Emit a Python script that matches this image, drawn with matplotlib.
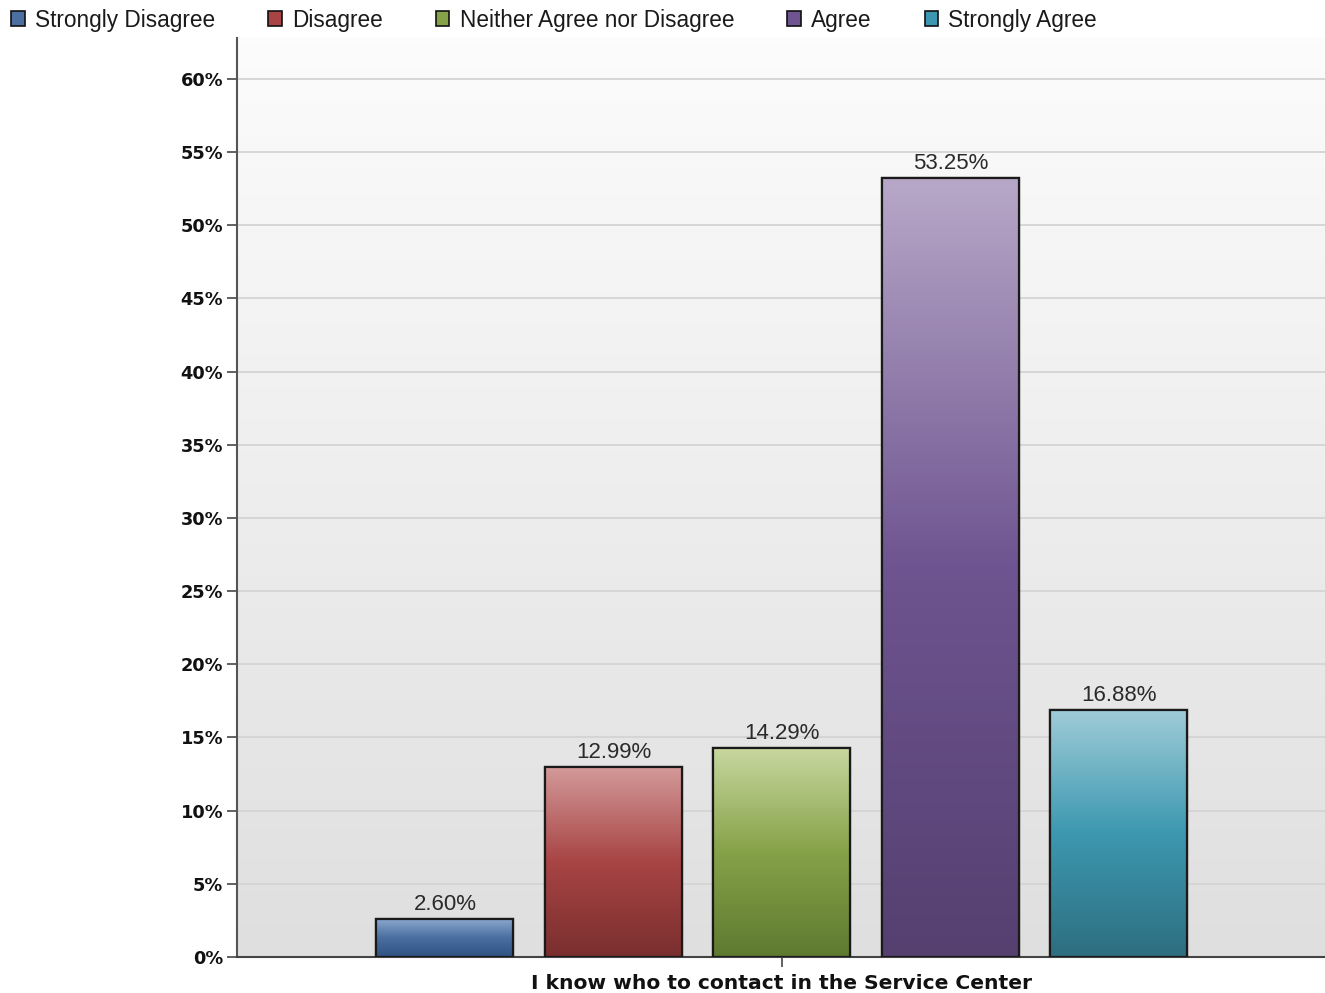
import numpy as np
import matplotlib
matplotlib.use("Agg")
import matplotlib.pyplot as plt
from matplotlib.patches import Patch
from matplotlib.colors import LinearSegmentedColormap

plt.rcParams['font.family'] = ['Liberation Sans', 'DejaVu Sans']

category = "I know who to contact in the Service Center"
series = ["Strongly Disagree", "Disagree", "Neither Agree nor Disagree", "Agree", "Strongly Agree"]
values = [2.60, 12.99, 14.29, 53.25, 16.88]
yticks = [0, 5, 10, 15, 20, 25, 30, 35, 40, 45, 50, 55, 60]

base_colors = ["#4a6fa0", "#a84444", "#86a248", "#6e5490", "#3c98b0"]
grad_colors = [
    ("#8eaad0", "#4a6fa0", "#2f5282"),
    ("#d49a9a", "#a84444", "#7a2e2e"),
    ("#c8d8a0", "#86a248", "#5e7a30"),
    ("#b8a8c8", "#6e5490", "#554070"),
    ("#a0ccd8", "#3c98b0", "#2e6e80"),
]

fig = plt.figure(figsize=(13.25, 9.93), dpi=100)
ax = fig.add_axes([237/1325, 1-957/993, (1325-237)/1325, (957-38)/993])

ymax = 62.8
xmin, xmax = -3.234, 3.223
ax.set_xlim(xmin, xmax)
ax.set_ylim(0, ymax)

# background gradient
bg = LinearSegmentedColormap.from_list("bg", ["#dfdfdf", "#fcfcfc"])
grad = np.linspace(0, 1, 256).reshape(-1, 1)
ax.imshow(grad, cmap=bg, aspect='auto', extent=[xmin, xmax, 0, ymax],
          origin='lower', zorder=0)

for y in yticks[1:]:
    ax.axhline(y, color="#d4d4d4", lw=1.3, zorder=1)

width = 0.813
positions = np.arange(len(values)) - 2
bars = ax.bar(positions, values, width=width, color=base_colors,
              edgecolor="#1a1a1a", linewidth=1.6, zorder=3)
for b, (top, mid, bot) in zip(bars, grad_colors):
    cm = LinearSegmentedColormap.from_list("g", [bot, mid, top])
    x0, y0 = b.get_x(), b.get_y()
    w, h = b.get_width(), b.get_height()
    im = ax.imshow(grad, cmap=cm, aspect='auto', extent=[x0, x0 + w, y0, y0 + h],
                   origin='lower', zorder=3.5)
    im.set_clip_path(b)
    ax.bar(b.get_x() + w/2, h, width=w, fill=False, edgecolor="#1a1a1a",
           linewidth=1.6, zorder=4)

for x, v in zip(positions, values):
    ax.text(x, v + 0.25, f"{v:.2f}%", ha='center', va='bottom', fontsize=16,
            color="#2a2a2a", zorder=5)

ax.set_yticks(yticks)
ax.set_yticklabels([f"{t}%" for t in yticks], fontweight='bold', fontsize=12.8,
                   family=['DejaVu Sans'], color="#111111")
ax.tick_params(axis='y', length=7, width=1.3, color="#555555", pad=3)
ax.set_xticks([0])
ax.set_xticklabels([category], fontweight='bold', fontsize=14.6,
                   family=['DejaVu Sans'], color="#111111")
ax.tick_params(axis='x', length=7, width=1.3, color="#555555", pad=5)

for s in ['top', 'right']:
    ax.spines[s].set_visible(False)
ax.spines['left'].set_color("#555555")
ax.spines['left'].set_linewidth(1.5)
ax.spines['bottom'].set_color("#444444")
ax.spines['bottom'].set_linewidth(1.5)

handles = [Patch(facecolor=c, edgecolor="#111111", linewidth=1.2) for c in base_colors]
fig.legend(handles, series, loc='upper left', bbox_to_anchor=(-0.002, 1.005), ncol=5,
           frameon=False, fontsize=16.3, handlelength=0.6, handleheight=0.6,
           handletextpad=0.45, columnspacing=2.35, borderaxespad=0.2,
           labelcolor="#1a1a1a")

fig.savefig("out.png", dpi=100, facecolor='white')
